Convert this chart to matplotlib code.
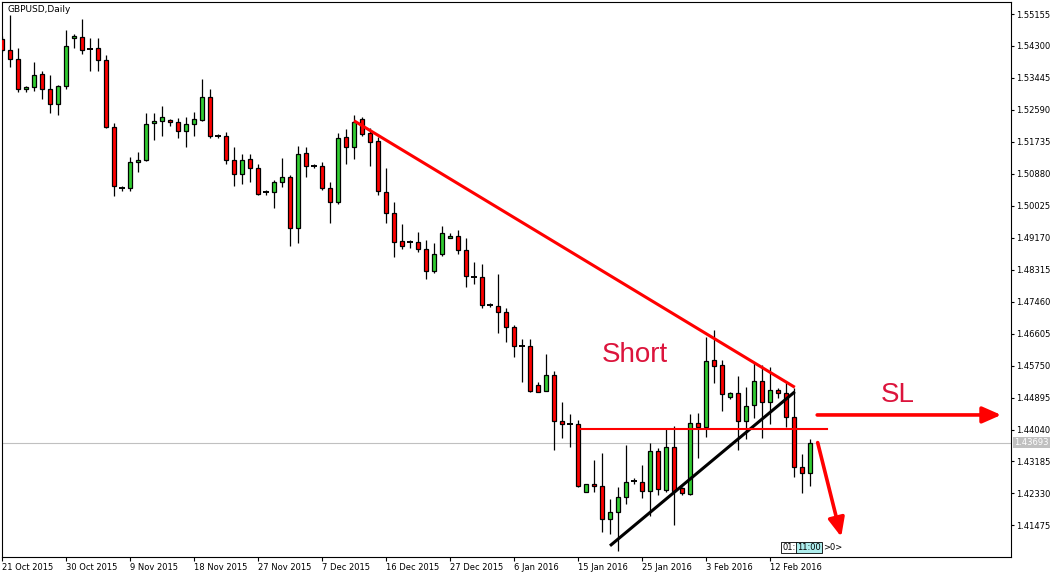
import numpy as np
import matplotlib
matplotlib.use('Agg')
import matplotlib.pyplot as plt
from matplotlib.transforms import blended_transform_factory

title = 'GBPUSD,Daily'
date_labels = ['21 Oct 2015', '30 Oct 2015', '9 Nov 2015', '18 Nov 2015', '27 Nov 2015',
               '7 Dec 2015', '16 Dec 2015', '27 Dec 2015', '6 Jan 2016', '15 Jan 2016',
               '25 Jan 2016', '3 Feb 2016', '12 Feb 2016']
price_ticks = [1.55155, 1.54300, 1.53445, 1.52590, 1.51735, 1.50880, 1.50025, 1.49170,
               1.48315, 1.47460, 1.46605, 1.45750, 1.44895, 1.44040, 1.43185, 1.42330, 1.41475]
last_price = 1.43693

# daily OHLC, one bar per trading day (incl. sunday bars)
opens = [1.54487, 1.54193, 1.53952, 1.53150, 1.53203, 1.53551, 1.53150, 1.52748, 1.53230, 1.54514,
         1.54540, 1.54220, 1.54247, 1.53925, 1.52133, 1.50501, 1.50501, 1.51196, 1.51250, 1.52240,
         1.52293, 1.52320, 1.52267, 1.52026, 1.52213, 1.52320, 1.52935, 1.51892, 1.51892, 1.51250,
         1.50876, 1.51277, 1.51036, 1.50394, 1.50394, 1.50662, 1.50796, 1.49431, 1.51438, 1.51090,
         1.51090, 1.50501, 1.50127, 1.51866, 1.51598, 1.52347, 1.51973, 1.51758, 1.50394, 1.49833,
         1.49083, 1.49057, 1.49057, 1.48870, 1.48281, 1.48736, 1.49164, 1.49217, 1.48843, 1.48120,
         1.48120, 1.47371, 1.47344, 1.47184, 1.46783, 1.46275, 1.46275, 1.45231, 1.45071, 1.45499,
         1.44268, 1.44188, 1.44188, 1.42369, 1.42583, 1.42530, 1.41647, 1.41834, 1.42235, 1.42663,
         1.42637, 1.42396, 1.43466, 1.42423, 1.43573, 1.42476, 1.42316, 1.44215, 1.44108, 1.45900,
         1.45766, 1.44911, 1.45017, 1.44268, 1.44696, 1.45338, 1.44777, 1.45098, 1.45017, 1.44375,
         1.43038, 1.42878]
highs = [1.54567, 1.55129, 1.54247, 1.53230, 1.53871, 1.53631, 1.53524, 1.53257, 1.54728, 1.54621,
         1.55022, 1.54514, 1.54514, 1.54059, 1.52240, 1.50555, 1.51330, 1.51464, 1.52508, 1.52508,
         1.52695, 1.52347, 1.52374, 1.52400, 1.52535, 1.53417, 1.53150, 1.51946, 1.51999, 1.51598,
         1.51411, 1.51411, 1.51143, 1.50448, 1.50715, 1.51304, 1.50849, 1.51625, 1.51598, 1.51143,
         1.51196, 1.50662, 1.51973, 1.52080, 1.52454, 1.52400, 1.52106, 1.51866, 1.51036, 1.50127,
         1.49538, 1.49110, 1.49324, 1.49110, 1.49030, 1.49485, 1.49298, 1.49378, 1.49164, 1.48522,
         1.48468, 1.47425, 1.48201, 1.47291, 1.46836, 1.46462, 1.46462, 1.45312, 1.46061, 1.45606,
         1.44777, 1.44456, 1.44295, 1.42583, 1.43225, 1.43413, 1.42182, 1.42503, 1.43627, 1.42744,
         1.43091, 1.43680, 1.43546, 1.44081, 1.44135, 1.42503, 1.44456, 1.44483, 1.46516, 1.46703,
         1.45900, 1.45044, 1.45472, 1.45178, 1.45820, 1.45766, 1.45713, 1.45151, 1.45312, 1.45151,
         1.43386, 1.43787]
lows = [1.54139, 1.53738, 1.53069, 1.53069, 1.53096, 1.52882, 1.52508, 1.52454, 1.53150, 1.54247,
        1.54086, 1.53631, 1.53631, 1.52106, 1.50287, 1.50421, 1.50421, 1.50929, 1.51223, 1.51785,
        1.51892, 1.52160, 1.51839, 1.51598, 1.51892, 1.52293, 1.51839, 1.51839, 1.51143, 1.50555,
        1.50608, 1.50662, 1.50314, 1.50314, 1.49966, 1.50528, 1.48950, 1.49030, 1.50796, 1.51036,
        1.50448, 1.49565, 1.50073, 1.51143, 1.51277, 1.51892, 1.51090, 1.50314, 1.49565, 1.48655,
        1.48870, 1.48897, 1.48789, 1.48067, 1.48228, 1.48682, 1.49164, 1.48736, 1.47853, 1.47933,
        1.47291, 1.47318, 1.46623, 1.46382, 1.45980, 1.45312, 1.45044, 1.45044, 1.45071, 1.43493,
        1.43814, 1.43573, 1.42503, 1.42369, 1.42369, 1.41300, 1.41246, 1.40791, 1.42048, 1.42583,
        1.42208, 1.41727, 1.42289, 1.42369, 1.41486, 1.42289, 1.42289, 1.43279, 1.43841, 1.45285,
        1.44536, 1.44857, 1.43493, 1.43787, 1.44349, 1.43814, 1.44188, 1.44884, 1.44108, 1.42771,
        1.42342, 1.42530]
closes = [1.54193, 1.53952, 1.53150, 1.53203, 1.53524, 1.53150, 1.52748, 1.53230, 1.54300, 1.54567,
          1.54193, 1.54220, 1.53925, 1.52133, 1.50555, 1.50501, 1.51196, 1.51250, 1.52213, 1.52293,
          1.52400, 1.52267, 1.52026, 1.52213, 1.52347, 1.52935, 1.51892, 1.51892, 1.51250, 1.50876,
          1.51250, 1.51036, 1.50341, 1.50394, 1.50662, 1.50796, 1.49431, 1.51411, 1.51090, 1.51090,
          1.50501, 1.50127, 1.51839, 1.51598, 1.52267, 1.51946, 1.51732, 1.50421, 1.49833, 1.49057,
          1.48950, 1.49057, 1.48870, 1.48281, 1.48736, 1.49298, 1.49217, 1.48843, 1.48147, 1.48120,
          1.47371, 1.47371, 1.47184, 1.46783, 1.46275, 1.46275, 1.45071, 1.45044, 1.45499, 1.44268,
          1.44188, 1.44188, 1.42530, 1.42583, 1.42530, 1.41647, 1.41834, 1.42235, 1.42637, 1.42663,
          1.42396, 1.43466, 1.42450, 1.43573, 1.42396, 1.42342, 1.44215, 1.44108, 1.45873, 1.45740,
          1.44991, 1.45017, 1.44268, 1.44670, 1.45338, 1.44777, 1.45098, 1.45017, 1.44375, 1.43038,
          1.42878, 1.43693]

# drawn objects: (bar index, price)
resistance = ([44, 99.1], [1.5230, 1.4517])
support = ([76, 99.1], [1.4093, 1.4505])
entry_x, entry_price = [72.4, 103.1], 1.4405
sl_arrow = ((101.9, 1.4443), (124.9, 1.4443))
down_arrow = ((101.96, 1.4369), (104.9, 1.4117))

W, H = 1064, 578
fig = plt.figure(figsize=(W / 100, H / 100), dpi=100)
ax = fig.add_axes([2 / W, (H - 556.7) / H, 1009 / W, 554.7 / H])

o = np.array(opens); hi = np.array(highs); lo = np.array(lows); c = np.array(closes)
idx = np.arange(len(o))
up = c > o
dn = c < o
flat = c == o

ax.axhline(last_price, color='#c0c0c0', lw=0.8, zorder=1)
ax.vlines(idx, lo, hi, color='black', lw=0.9, zorder=2)
ax.bar(idx[up], (c - o)[up], bottom=o[up], width=0.6, color='#32cd32',
       edgecolor='black', lw=0.9, zorder=3)
ax.bar(idx[dn], (o - c)[dn], bottom=c[dn], width=0.6, color='#ff0000',
       edgecolor='black', lw=0.9, zorder=3)
ax.hlines(c[flat], idx[flat] - 0.32, idx[flat] + 0.32, color='black', lw=1.4, zorder=3)

# analysis objects
ax.plot(*resistance, color='red', lw=2.2, zorder=4, solid_capstyle='butt')
ax.plot(*support, color='black', lw=2.2, zorder=4, solid_capstyle='butt')
ax.plot(entry_x, [entry_price, entry_price], color='red', lw=1.5, zorder=4)
for start, tip in (sl_arrow, down_arrow):
    ax.annotate('', xy=tip, xytext=start, zorder=5,
                arrowprops=dict(arrowstyle='-|>,head_length=0.75,head_width=0.33',
                                color='red', lw=2.6, shrinkA=0, shrinkB=0,
                                mutation_scale=15))
ax.text(79.1, 1.4603, 'Short', color='#dc143c', fontsize=20, family='Liberation Sans',
        ha='center', va='center', zorder=6)
ax.text(112, 1.4496, 'SL', color='#dc143c', fontsize=20, family='Liberation Sans',
        ha='center', va='center', zorder=6)

ax.set_xlim(0, 126.125)
ax.set_ylim(1.40638, 1.55477)

# axes styling like the terminal
ax.yaxis.tick_right()
ax.set_yticks(price_ticks)
ax.set_yticklabels(['%.5f' % p for p in price_ticks])
ax.set_xticks(range(0, 8 * len(date_labels), 8))
ax.set_xticklabels(date_labels, ha='left')
ax.tick_params(axis='y', direction='out', length=2.5, width=0.8, pad=1, labelsize=6)
ax.tick_params(axis='x', direction='out', length=2.8, width=0.8, pad=1.5, labelsize=6)
for s in ax.spines.values():
    s.set_linewidth(0.8)
    s.set_color('black')

ax.text(0.005, 0.9856, title, transform=ax.transAxes, fontsize=6.5, va='center', ha='left')

tr = blended_transform_factory(ax.transAxes, ax.transData)
ax.text(1.0035, last_price, '%.5f' % last_price, transform=tr, color='white', fontsize=6,
        va='center', ha='left', clip_on=False,
        bbox=dict(boxstyle='square,pad=0.15', fc='#c0c0c0', ec='none'))

# little time marker boxes at the bottom
ax.text(98.35, 1.4089, '01:', fontsize=6, ha='center', va='center', zorder=6,
        bbox=dict(boxstyle='square,pad=0.15', fc='white', ec='black', lw=0.6))
ax.text(100.9, 1.4089, '11:00', fontsize=6, ha='center', va='center', zorder=6,
        bbox=dict(boxstyle='square,pad=0.15', fc='#aeeeee', ec='black', lw=0.6))
ax.text(102.6, 1.4089, '>0>', fontsize=6, ha='left', va='center', zorder=6)

fig.savefig('out.png', dpi=100)
